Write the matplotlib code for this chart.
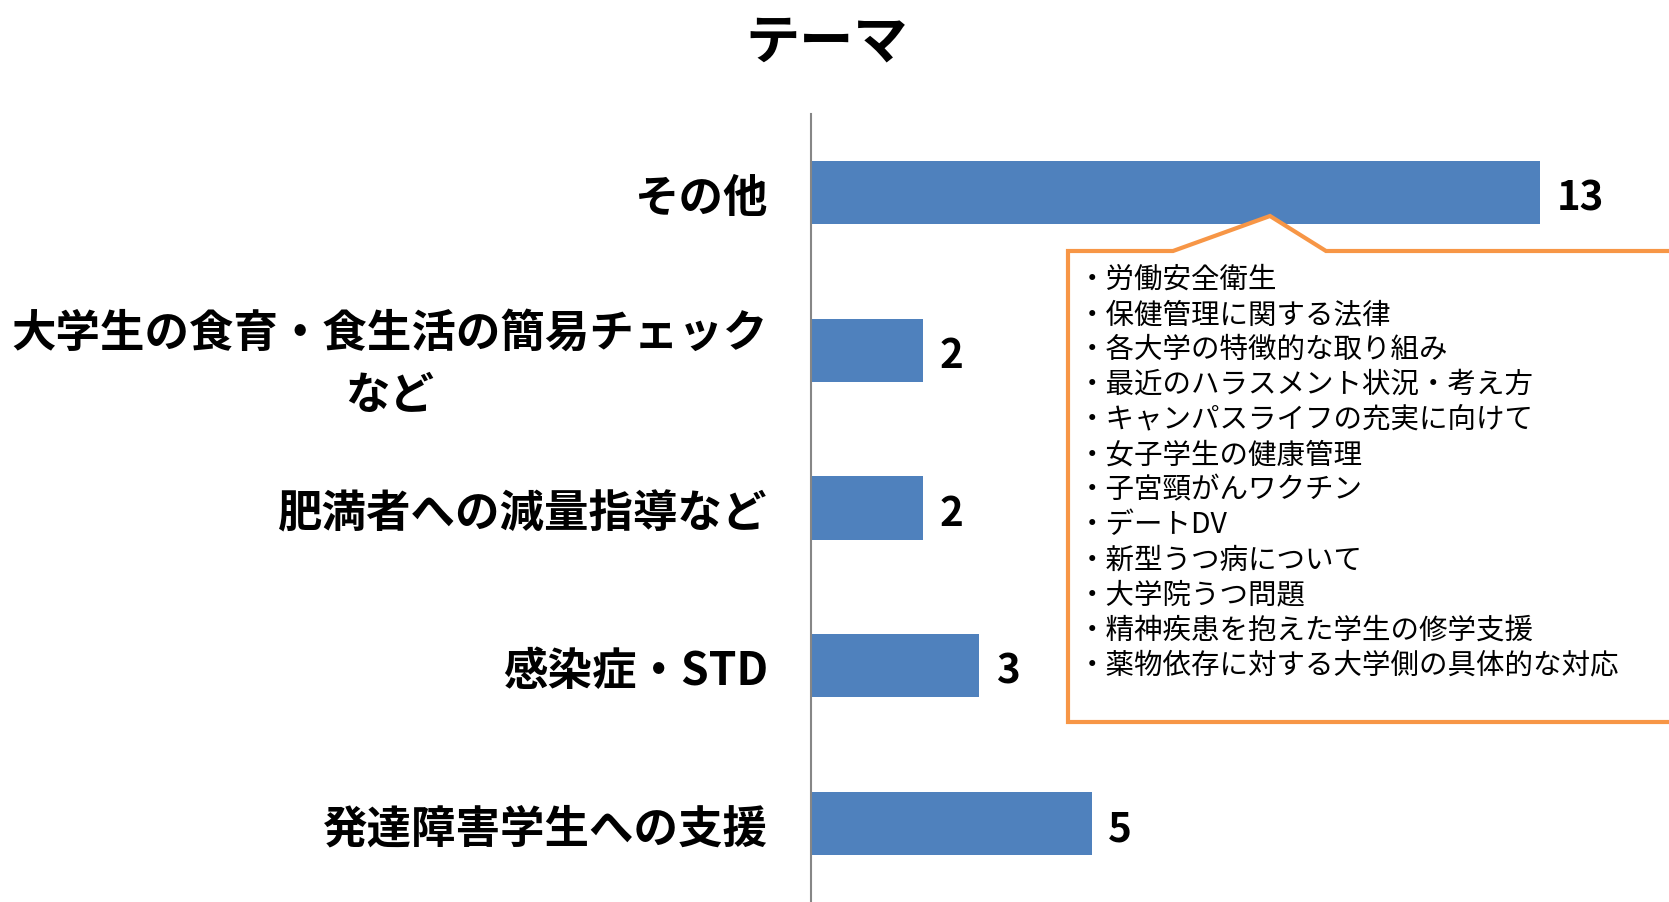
import matplotlib
matplotlib.use('Agg')
import matplotlib.pyplot as plt
from matplotlib.patches import Polygon

plt.rcParams['font.family'] = ['Noto Sans CJK JP', 'DejaVu Sans']

# data
categories = ['その他', '大学生の食育・食生活の簡易チェック\nなど', '肥満者への減量指導など',
              '感染症・STD', '発達障害学生への支援']
counts = [13, 2, 2, 3, 5]
title = 'テーマ'
other_topics = ['・労働安全衛生', '・保健管理に関する法律', '・各大学の特徴的な取り組み',
                '・最近のハラスメント状況・考え方', '・キャンパスライフの充実に向けて',
                '・女子学生の健康管理', '・子宮頸がんワクチン', '・デートDV',
                '・新型うつ病について', '・大学院うつ問題',
                '・精神疾患を抱えた学生の修学支援', '・薬物依存に対する大学側の具体的な対応']

W, H = 1669, 903
fig = plt.figure(figsize=(W / 100, H / 100), dpi=100)
ax = fig.add_axes([811 / W, 0, (W - 811) / W, (H - 115) / H])

pos = list(range(len(categories)))
ax.barh(pos, counts, height=0.4, color='#4F81BD')
ax.set_ylim(len(categories) - 0.5, -0.5)
ax.set_xlim(0, (W - 811) / 56.1)
ax.set_yticks(pos)
ax.set_yticklabels(categories, fontsize=32, fontweight='bold', multialignment='center',
                   linespacing=1.45)
ax.tick_params(axis='y', length=0, pad=31)
ax.set_xticks([])
for s in ['top', 'right', 'bottom']:
    ax.spines[s].set_visible(False)
ax.spines['left'].set_color('#868686')
ax.spines['left'].set_linewidth(1.5)

for p, v in zip(pos, counts):
    ax.annotate(str(v), (v, p), xytext=(12, -4), textcoords='offset points',
                va='center', ha='left', fontsize=29, fontweight='bold')

fig.text(827 / W, 1 - 43 / H, title, ha='center', va='center', fontsize=39, fontweight='bold')

# callout box (pixel coordinates -> inches)
verts = [(1068, 252), (1173, 252), (1270, 217), (1326, 252), (1700, 252),
         (1700, 723), (1068, 723)]
callout = Polygon([(x / 100, (H - y) / 100) for x, y in verts], closed=True,
                  transform=fig.dpi_scale_trans, facecolor='white', edgecolor='#F79646',
                  linewidth=3, clip_on=False)
fig.patches.append(callout)

for i, t in enumerate(other_topics):
    fig.text(1078 / W, 1 - (280 + i * 35.05) / H, t, ha='left', va='center', fontsize=20.5)

fig.savefig('out.png', dpi=100)
